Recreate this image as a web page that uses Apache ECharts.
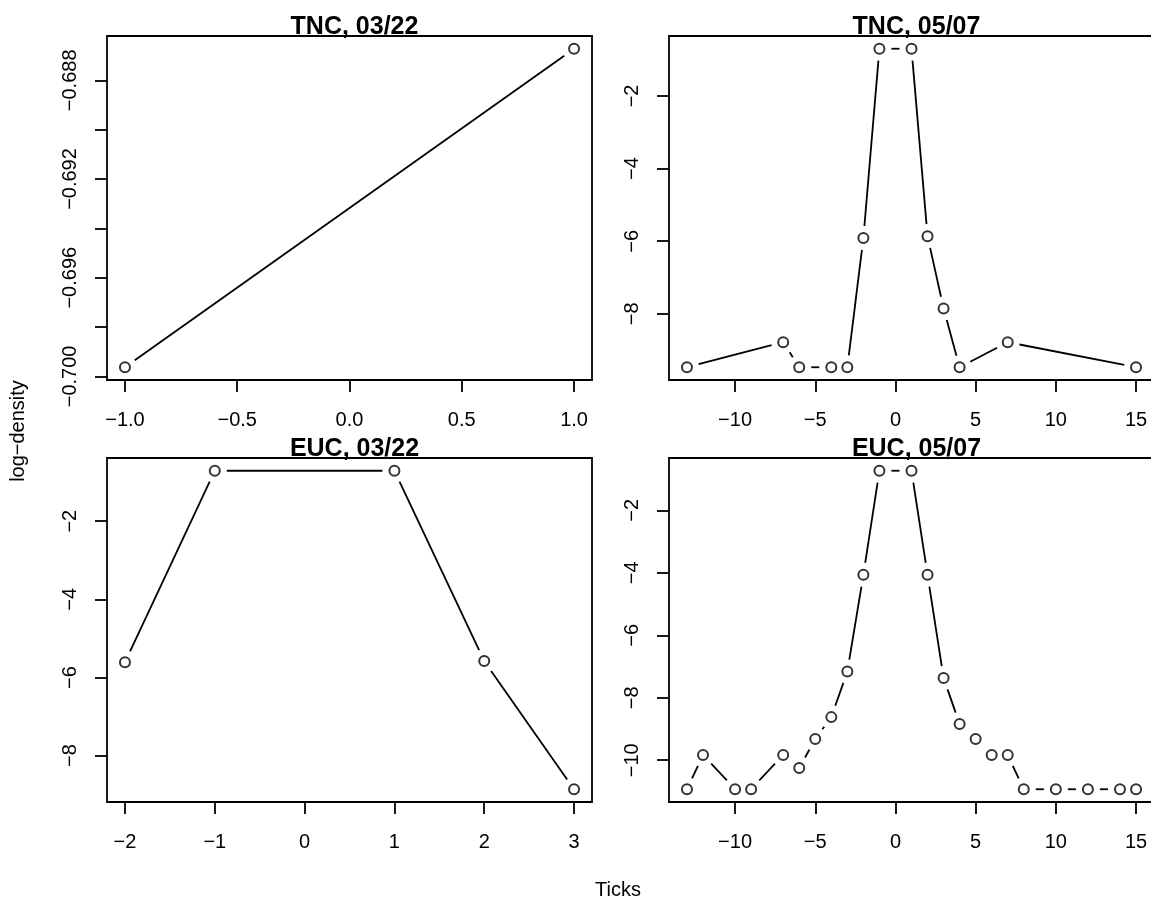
<!DOCTYPE html>
<html>
<head>
<meta charset="utf-8">
<script src="https://cdn.jsdelivr.net/npm/echarts@6/dist/echarts.min.js"></script>
<style>
html,body{margin:0;padding:0;background:#fff;}
#chart{width:1151px;height:901px;}
</style>
</head>
<body>
<div id="chart"></div>
<script>
// ---- data ----
const titles = ['TNC, 03/22', 'TNC, 05/07', 'EUC, 03/22', 'EUC, 05/07'];

const tnc0322X = [-1, 1];
const tnc0322Y = [-0.69963, -0.68672];

const tnc0507X = [-13, -7, -6, -4, -3, -2, -1, 1, 2, 3, 4, 7, 15];
const tnc0507Y = [-9.47, -8.78, -9.47, -9.47, -9.47, -5.91, -0.70, -0.70, -5.86, -7.85, -9.47, -8.78, -9.47];

const euc0322X = [-2, -1, 1, 2, 3];
const euc0322Y = [-5.61, -0.71, -0.71, -5.58, -8.86];

const euc0507X = [-13, -12, -10, -9, -7, -6, -5, -4, -3, -2, -1, 1, 2, 3, 4, 5, 6, 7, 8, 10, 12, 14, 15];
const euc0507Y = [-10.93, -9.83, -10.93, -10.93, -9.83, -10.25, -9.32, -8.62, -7.16, -4.06, -0.73, -0.73, -4.06, -7.37, -8.84, -9.32, -9.83, -9.83, -10.93, -10.93, -10.93, -10.93, -10.93];

// tick positions / labels
const p1XTicks = [-1, -0.5, 0, 0.5, 1];
const p1YTicks = [-0.700, -0.698, -0.696, -0.694, -0.692, -0.690, -0.688];
const p1YLabels = [-0.700, -0.696, -0.692, -0.688];
const p2XTicks = [-10, -5, 0, 5, 10, 15];
const p2YTicks = [-8, -6, -4, -2];
const p3XTicks = [-2, -1, 0, 1, 2, 3];
const p3YTicks = [-8, -6, -4, -2];
const p4XTicks = [-10, -5, 0, 5, 10, 15];
const p4YTicks = [-10, -8, -6, -4, -2];

const xAxisTitle = 'Ticks';
const yAxisTitle = 'log\u2212density';

// ---- helpers ----
const FONT = '"Liberation Sans", Arial, Helvetica, sans-serif';
const GAP = 12;
function lim(arr) {
  const mn = Math.min(...arr), mx = Math.max(...arr), r = mx - mn;
  return [mn - 0.04 * r, mx + 0.04 * r];
}
function minus(s) { return s.replace(/-/g, '\u2212'); }
function fmtFixed(d) { return function (v) { return minus(Number(v).toFixed(d)); }; }
function fmtInt(v) { return minus(String(Math.round(v))); }

const panels = [
  { x: tnc0322X, y: tnc0322Y, xt: p1XTicks, yt: p1YTicks, yl: p1YLabels, xf: fmtFixed(1), yf: fmtFixed(3), left: 107, top: 36 },
  { x: tnc0507X, y: tnc0507Y, xt: p2XTicks, yt: p2YTicks, yl: p2YTicks, xf: fmtInt, yf: fmtInt, left: 669, top: 36 },
  { x: euc0322X, y: euc0322Y, xt: p3XTicks, yt: p3YTicks, yl: p3YTicks, xf: fmtInt, yf: fmtInt, left: 107, top: 458 },
  { x: euc0507X, y: euc0507Y, xt: p4XTicks, yt: p4YTicks, yl: p4YTicks, xf: fmtInt, yf: fmtInt, left: 669, top: 458 }
];
const W = 485, H = 344;

const grid = [], xAxis = [], yAxis = [], series = [], title = [];
panels.forEach(function (p, i) {
  grid.push({ left: p.left, top: p.top, width: W, height: H, show: true, borderColor: '#000', borderWidth: 1.8,
              backgroundColor: 'transparent', containLabel: false, outerBoundsMode: 'none' });
  const xl = lim(p.x), yl = lim(p.y);
  xAxis.push({
    type: 'value', gridIndex: i, min: xl[0], max: xl[1], position: 'bottom',
    axisLine: { show: false, onZero: false },
    axisTick: { show: true, length: 12, inside: false, customValues: p.xt, lineStyle: { color: '#000', width: 1.8 } },
    axisLabel: { show: true, customValues: p.xt, formatter: p.xf, color: '#000', fontSize: 20, fontFamily: FONT, margin: 30,
                 showMinLabel: true, showMaxLabel: true, hideOverlap: false },
    splitLine: { show: false }
  });
  yAxis.push({
    type: 'value', gridIndex: i, min: yl[0], max: yl[1], position: 'left',
    axisLine: { show: false, onZero: false },
    axisTick: { show: true, length: 12, inside: false, customValues: p.yt, lineStyle: { color: '#000', width: 1.8 } },
    axisLabel: { show: true, customValues: p.yl, formatter: p.yf, color: '#000', fontSize: 20, fontFamily: FONT, margin: 27, rotate: 90,
                 showMinLabel: true, showMaxLabel: true, hideOverlap: false },
    splitLine: { show: false }
  });
  const segs = [];
  for (let k = 0; k < p.x.length - 1; k++) segs.push([p.x[k], p.y[k], p.x[k + 1], p.y[k + 1]]);
  series.push({
    type: 'custom', xAxisIndex: i, yAxisIndex: i, data: segs, encode: { x: [0, 2], y: [1, 3] }, silent: true,
    renderItem: function (params, api) {
      const a = api.coord([api.value(0), api.value(1)]);
      const b = api.coord([api.value(2), api.value(3)]);
      const dx = b[0] - a[0], dy = b[1] - a[1], d = Math.hypot(dx, dy);
      if (d <= 2 * GAP) return null;
      const ux = dx / d, uy = dy / d;
      return { type: 'line', shape: { x1: a[0] + ux * GAP, y1: a[1] + uy * GAP, x2: b[0] - ux * GAP, y2: b[1] - uy * GAP },
               style: { stroke: '#000', lineWidth: 1.8 } };
    }
  });
  series.push({
    type: 'scatter', xAxisIndex: i, yAxisIndex: i, data: p.x.map(function (v, k) { return [v, p.y[k]]; }),
    symbol: 'circle', symbolSize: 10, silent: true,
    itemStyle: { color: 'rgba(0,0,0,0)', borderColor: '#000', borderWidth: 2 }
  });
  title.push({ text: titles[i], left: p.left + W / 2, top: p.top - 26, textAlign: 'center',
               textStyle: { fontSize: 25, fontWeight: 'bold', color: '#000', fontFamily: FONT } });
});

const chart = echarts.init(document.getElementById('chart'), null, { renderer: 'canvas' });
chart.setOption({
  animation: false,
  backgroundColor: '#fff',
  title: title,
  grid: grid, xAxis: xAxis, yAxis: yAxis, series: series,
  graphic: [
    { type: 'text', x: 618, y: 890, style: { text: xAxisTitle, fontSize: 20, fontFamily: FONT, fill: '#000', align: 'center', verticalAlign: 'middle' } },
    { type: 'text', x: 18, y: 431, rotation: Math.PI / 2, style: { text: yAxisTitle, fontSize: 20, fontFamily: FONT, fill: '#000', align: 'center', verticalAlign: 'middle' } }
  ]
});
</script>
</body>
</html>
